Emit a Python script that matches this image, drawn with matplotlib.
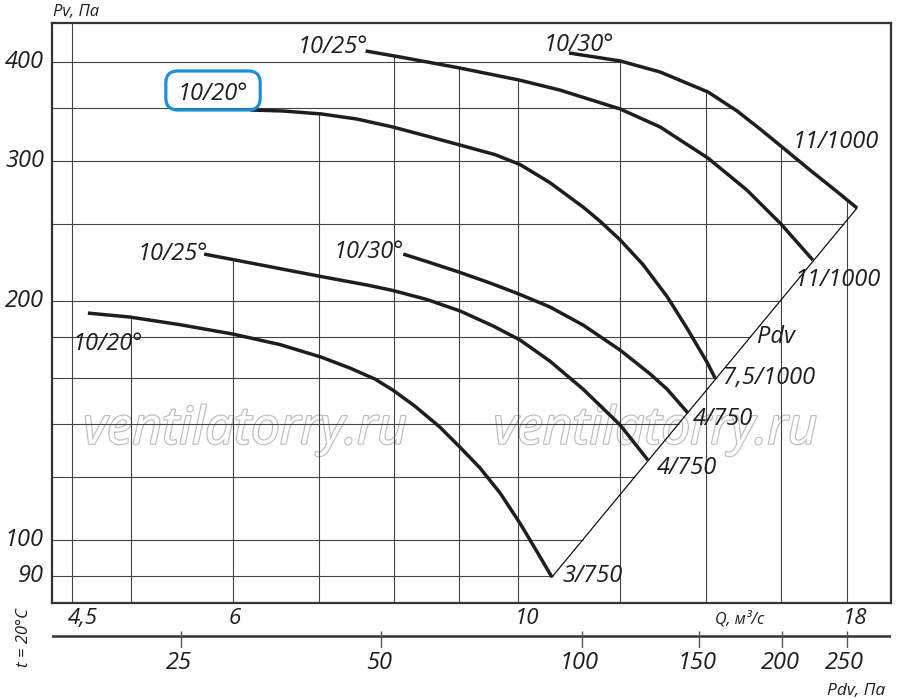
import numpy as np
import matplotlib
matplotlib.use("Agg")
import matplotlib.pyplot as plt
import matplotlib.patheffects as pe
from matplotlib.patches import FancyBboxPatch
from matplotlib.transforms import IdentityTransform
from matplotlib.ticker import NullLocator

plt.rcParams['font.family'] = ['Open Sans', 'DejaVu Sans']
plt.rcParams['font.style'] = 'italic'

# ---------------- data ----------------
# Q, m3/s  and  Pv, Pa  for each fan characteristic
q_a = [4.63, 4.99, 5.46, 6.00, 6.53, 7.03, 7.40, 7.74, 7.99, 8.31, 8.69, 9.01, 9.34,
       9.68, 10.03, 10.30, 10.62]
p_a = [193.1, 190.9, 186.7, 181.7, 176.2, 169.9, 164.6, 159.4, 154.4, 147.4, 138.7, 130.8,
       123.1, 114.5, 104.9, 97.6, 89.7]

q_b = [5.70, 6.00, 6.38, 7.03, 7.63, 7.99, 8.49, 9.01, 9.56, 10.03, 10.58, 11.23, 12.00, 12.61]
p_b = [229.2, 225.6, 221.3, 214.7, 209.5, 206.2, 200.9, 194.3, 186.0, 178.6, 168.0, 154.8,
       139.5, 126.0]

q_c = [8.14, 8.54, 9.01, 9.51, 10.01, 10.58, 11.23, 12.00, 12.66, 13.05, 13.55]
p_c = [229.2, 223.6, 217.3, 210.7, 204.1, 196.6, 186.5, 173.4, 161.8, 154.8, 144.4]

q_d = [6.19, 6.56, 7.03, 7.49, 7.99, 8.49, 9.01, 9.59, 10.03, 10.58, 11.23, 11.57, 12.00,
       12.50, 13.05, 13.52, 14.02, 14.22]
p_d = [348.3, 347.3, 344.3, 339.3, 331.5, 322.9, 314.6, 306.0, 297.3, 282.1, 262.7, 252.3,
       238.8, 222.3, 202.6, 184.9, 167.3, 159.9]

q_e = [7.61, 8.09, 9.01, 10.01, 10.77, 12.00, 12.89, 14.04, 15.05, 16.00, 16.94]
p_e = [413.4, 406.3, 393.4, 380.0, 369.1, 349.3, 331.5, 302.9, 276.1, 250.1, 225.2]

q_f = [10.95, 12.00, 12.89, 14.04, 14.79, 15.41, 16.03, 16.85, 17.68, 18.33]
p_f = [411.0, 401.6, 388.9, 367.0, 347.3, 329.6, 312.8, 292.6, 274.9, 262.0]

start_labels = ['10/20°', '10/25°', '10/30°', '10/20°', '10/25°', '10/30°']
end_labels = ['3/750', '4/750', '4/750', '7,5/1000', '11/1000', '11/1000']

grid_q = [4.5, 5, 6, 7, 8, 9, 10, 12, 14, 16, 18]
grid_p = [90, 100, 120, 140, 160, 180, 200, 250, 300, 350, 400]
q_tick_vals = [4.5, 6, 10, 18]
q_tick_text = ['4,5', '6', '10', '18']
p_tick_vals = [90, 100, 200, 300, 400]
pdv_ticks = [25, 50, 100, 150, 200, 250]

curves = [(q_a, p_a), (q_b, p_b), (q_c, p_c), (q_d, p_d), (q_e, p_e), (q_f, p_f)]

# ---------------- layout ----------------
W, H = 900, 699
K = 72.0 / 100.0          # points per pixel
FS = 17
ink = '#1e1e1e'
gridc = '#444444'

start_off = [(-15, 37, 'left'), (4, 6, 'right'), (1, 4, 'right'),
             (-2, -10, 'right'), (2, 2, 'right'), (-25, -2, 'left')]
end_off = [(11, 5, 'left'), (9, 14, 'left'), (5, 12, 'left'),
           (8, 6, 'left'), (-18, 26, 'left'), (-64, -60, 'left')]

fig = plt.figure(figsize=(W / 100, H / 100), dpi=100)
ax = fig.add_axes([52 / W, 1 - 603 / H, 839 / W, 580 / H])
ax.set_xscale('log')
ax.set_yscale('log')
XL = (4.342, 19.48)
YL = (83.2, 448.4)
ax.set_xlim(*XL)
ax.set_ylim(*YL)
for a in (ax.xaxis, ax.yaxis):
    a.set_major_locator(NullLocator())
    a.set_minor_locator(NullLocator())
for s in ax.spines.values():
    s.set_linewidth(1.6)
    s.set_color('#333333')


def interp_log(x, xs, ys):
    return 10 ** np.interp(np.log10(x), np.log10(xs), np.log10(ys))


def top_at(q):
    vals = [interp_log(q, qs, ps) for qs, ps in curves if qs[0] <= q <= qs[-1]]
    return max(vals) if vals else YL[1]


qa_end, pa_end = q_a[-1], p_a[-1]
qf_end, pf_end = q_f[-1], p_f[-1]
slope = np.log(pf_end / pa_end) / np.log(qf_end / qa_end)


def right_at(p):
    if p >= pf_end:
        return interp_log(p, p_f[::-1], q_f[::-1])
    return qa_end * (p / pa_end) ** (1 / slope)


for q in grid_q:
    ax.vlines(q, YL[0], top_at(q), color=gridc, lw=0.8, zorder=1)
for p in grid_p:
    ax.hlines(p, XL[0], right_at(p), color=gridc, lw=0.8, zorder=1)

# Pdv diagonal through the end points
ax.plot([qa_end, qf_end], [pa_end, pf_end], color='#111111', lw=0.9, zorder=2)

for (qs, ps) in curves:
    ax.plot(qs, ps, color=ink, lw=2.5, solid_joinstyle='round',
            solid_capstyle='butt', zorder=3)

label_texts = []
for i, (qs, ps) in enumerate(curves):
    dx, dy, ha = start_off[i]
    t = ax.annotate(start_labels[i], xy=(qs[0], ps[0]), xytext=(dx * K, -dy * K),
                    textcoords='offset points', ha=ha, va='baseline',
                    fontsize=FS, color=ink, zorder=4)
    label_texts.append(t)
    dx, dy, ha = end_off[i]
    ax.annotate(end_labels[i], xy=(qs[-1], ps[-1]), xytext=(dx * K, -dy * K),
                textcoords='offset points', ha=ha, va='baseline',
                fontsize=FS, color=ink, zorder=4)

ax.annotate('Pdv', xy=(q_d[-1], p_d[-1]), xytext=(42 * K, 35 * K),
            textcoords='offset points', ha='left', va='baseline',
            fontsize=FS, color=ink)

# watermark
for xf in (0.230, 0.719):
    ax.text(xf, 0.298, 'ventilatorry.ru', transform=ax.transAxes, ha='center',
            va='center', fontsize=37, color='white', zorder=0.5,
            path_effects=[pe.withStroke(linewidth=1.7, foreground='#bdbdbd')])

# tick labels of main axes
for v, s in zip(q_tick_vals, q_tick_text):
    ax.annotate(s, xy=(v, 0), xycoords=('data', 'axes fraction'),
                xytext=(-4 * K, -21 * K), textcoords='offset points',
                ha='left', va='baseline', fontsize=16, color=ink)
for v in p_tick_vals:
    ax.annotate(str(v), xy=(0, v), xycoords=('axes fraction', 'data'),
                xytext=(-8 * K, -6 * K), textcoords='offset points',
                ha='right', va='baseline', fontsize=FS, color=ink)

# lower Pdv scale
ax2 = fig.add_axes([52 / W, 1 - 648 / H, 839 / W, 17 / H])
ax2.set_xscale('log')
ax2.set_xlim(16.03, 291.5)
ax2.set_ylim(0, 1)
ax2.axis('off')
ax2.axhline(12 / 17, color='#333333', lw=1.8)
ax2.vlines(pdv_ticks, 0, 1, color='#555555', lw=1.0)
for v in pdv_ticks:
    ax2.annotate(str(v), xy=(v, 0), xycoords=('data', 'axes fraction'),
                 xytext=(-2 * K, -21 * K), textcoords='offset points',
                 ha='center', va='baseline', fontsize=FS, color=ink)

fig.text(53 / W, 1 - 16 / H, 'Pv, Па', ha='left', va='baseline', fontsize=12, color=ink)
fig.text(715 / W, 1 - 623 / H, 'Q, м³/с', ha='left', va='baseline', fontsize=11.5, color=ink)
fig.text(827 / W, 1 - 695 / H, 'Pdv, Па', ha='left', va='baseline', fontsize=12.5, color=ink)
fig.text(24 / W, 1 - 638 / H, 't = 20°C', ha='center', va='center', rotation=90,
         fontsize=12, color=ink)

# blue rounded frame around the highlighted label
fig.canvas.draw()
bb = label_texts[3].get_window_extent()
box = FancyBboxPatch((bb.x0 - 12, bb.y0 - 4), bb.width + 24, bb.height + 15,
                     boxstyle='round,pad=0,rounding_size=12',
                     transform=IdentityTransform(), fc='none', ec='#1a8fdd', lw=2.3,
                     zorder=5)
fig.add_artist(box)

fig.savefig('out.png', dpi=100)
